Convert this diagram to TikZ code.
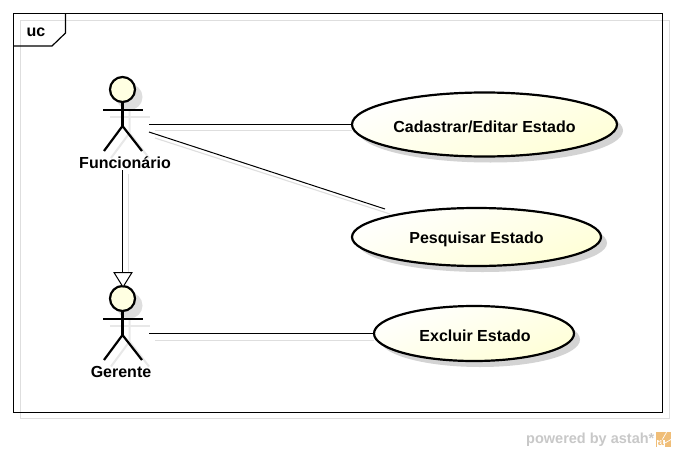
\documentclass[tikz,border=0pt]{standalone}
\usepackage{fontspec}
\setmainfont{Liberation Sans}
\usetikzlibrary{shapes.geometric,calc}
\definecolor{shade}{RGB}{222,222,222}
\definecolor{softyellow}{RGB}{255,255,214}
\definecolor{wm}{RGB}{200,200,200}
\definecolor{wmicon}{RGB}{240,190,120}
\tikzset{
 uline/.style={draw=black,line width=1pt},
 sline/.style={draw=shade,line width=1.1pt},
 limb/.style={draw=black,line width=2.2pt},
 slimb/.style={draw=shade!70!white,line width=2pt},
 lbl/.style={font=\bfseries\fontsize{16}{18}\selectfont,inner sep=0pt,text=black},
 usecase/.style={ellipse,draw=black,line width=2.2pt,inner sep=0pt,left color=white,right color=softyellow,shading angle=20},
 ushadow/.style={ellipse,fill=shade!95!black,draw=none,inner sep=0pt},
 headc/.style={circle,draw=black,line width=2.2pt,fill=softyellow!70!white,inner sep=0pt,minimum size=25pt},
 heads/.style={circle,fill=shade,inner sep=0pt,minimum size=26pt},
}
\begin{document}
\begin{tikzpicture}[x=1pt,y=-1pt]
\useasboundingbox (0,0) rectangle (676,452);
\fill[white] (0,0) rectangle (676,452);
% anchors
\coordinate (fL) at (149,124.5);
\coordinate (fM) at (149,132);
\coordinate (pT) at (385,209);
\coordinate (fB) at (122.5,170);
\coordinate (gA) at (122.5,272);
\coordinate (gT) at (123,287);
\coordinate (gR) at (149,333.5);
% frame shadow
\draw[draw=shade,line width=1pt] (20.5,20.5) rectangle (669.5,418.5);
% shadows
\node[ushadow,minimum width=265pt,minimum height=64pt] at (490.5,130.5) {};
\node[ushadow,minimum width=249pt,minimum height=58pt] at (482.5,243) {};
\node[ushadow,minimum width=200pt,minimum height=55pt] at (480,339.5) {};
\draw[sline] ($(fL)+(6,6)$) -- (352,130.5);
\draw[sline] ($(fM)+(6,6)$) -- (390,214);
\draw[sline] ($(fB)+(6,4)$) -- (128.5,276);
\draw[sline] ($(gR)+(6,7)$) -- (374,340.5);
\foreach \cy in {90,298.5}{
  \node[heads] at (129.5,\cy+7) {};
  \draw[slimb] (110,\cy+27) -- (150,\cy+27);
  \draw[slimb] (129.5,\cy+20) -- (129.5,\cy+43) (111,\cy+68) -- (129.5,\cy+43) -- (149,\cy+68);
}
% frame
\draw[draw=black,line width=1.2pt] (13.5,13.5) rectangle (662.5,412.5);
\draw[draw=black,line width=1.2pt] (13.5,46) -- (52,46) -- (65.5,33) -- (65.5,13.5);
\node[lbl,anchor=center] (uc) at (36,32) {uc};
% actors
\node[headc] (h1) at (122.5,89.5) {};
\draw[limb] (103,110) -- (143,110);
\draw[limb] (h1.south) -- (122.5,126);
\draw[limb] (104,151) -- (122.5,126) -- (142,151);
\node[lbl] (fn) at (125,163) {Funcionário};
\node[headc] (h2) at (122.5,298.5) {};
\draw[limb] (103,319) -- (143,319);
\draw[limb] (h2.south) -- (122.5,335);
\draw[limb] (104,360) -- (122.5,335) -- (142,360);
\node[lbl] (gr) at (121,372) {Gerente};
% use cases
\node[usecase,minimum width=265pt,minimum height=64pt] (c1) at (484.5,124.5) {};
\node[lbl] at ($(c1.center)+(0,2)$) {Cadastrar/Editar Estado};
\node[usecase,minimum width=249pt,minimum height=58pt] (c2) at (476.5,237) {};
\node[lbl] at ($(c2.center)+(0,2)$) {Pesquisar Estado};
\node[usecase,minimum width=200pt,minimum height=55pt] (c3) at (474,333.5) {};
\node[lbl] at ($(c3.center)+(1,2)$) {Excluir Estado};
% connectors
\draw[uline] (fL) -- (fL -| c1.west);
\draw[uline] (fM) -- (pT);
\draw[uline] (gR) -- (gR -| c3.west);
\draw[uline] (fB) -- (gA);
\draw[uline,fill=white] (114,272.5) -- (132,272.5) -- (gT) -- cycle;
% watermark
\node[anchor=west,inner sep=0pt,text=wm,font=\bfseries\fontsize{14.5}{16}\selectfont] (wmk) at (526,440) {powered by astah*};
\fill[wmicon] (656,432) rectangle (671,447);
\foreach \a in {0,30,60}{
  \draw[white,line width=0.7pt] (658,447) -- ++(-\a:17);
}
\fill[white] (657,440) rectangle (665,447);
\node[inner sep=0pt,text=wmicon,font=\bfseries\fontsize{11}{11}\selectfont] at (661,443) {a};
\end{tikzpicture}
\end{document}
